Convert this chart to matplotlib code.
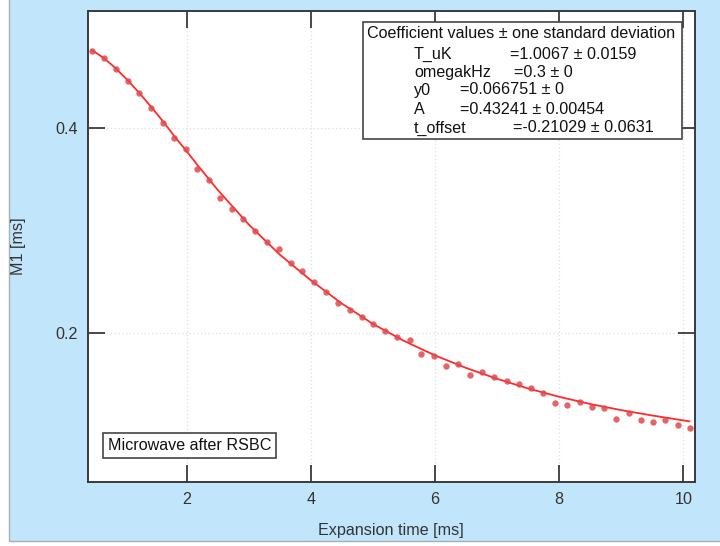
import matplotlib
matplotlib.use("Agg")
import matplotlib.pyplot as plt
from matplotlib.patches import Rectangle

plt.rcParams['font.family'] = ['Liberation Sans', 'DejaVu Sans']
FS = 11.6

# Measured M1 versus expansion time
t_ms = [0.480, 0.673, 0.862, 1.050, 1.237, 1.426, 1.619, 1.801, 1.985, 2.171,
        2.360, 2.537, 2.730, 2.912, 3.106, 3.294, 3.487, 3.676, 3.866, 4.051,
        4.240, 4.433, 4.626, 4.820, 5.006, 5.200, 5.393, 5.598, 5.780, 5.979,
        6.173, 6.366, 6.564, 6.762, 6.956, 7.155, 7.349, 7.547, 7.745, 7.938,
        8.132, 8.331, 8.529, 8.723, 8.916, 9.121, 9.314, 9.507, 9.710, 9.910,
        10.108]
m1_ms = [0.4749, 0.4681, 0.4571, 0.4451, 0.4340, 0.4192, 0.4049, 0.3900, 0.3793, 0.3598,
         0.3491, 0.3319, 0.3212, 0.3115, 0.2992, 0.2891, 0.2820, 0.2681, 0.2609, 0.2494,
         0.2405, 0.2292, 0.2227, 0.2156, 0.2093, 0.2022, 0.1961, 0.1932, 0.1796, 0.1782,
         0.1682, 0.1701, 0.1591, 0.1627, 0.1575, 0.1539, 0.1507, 0.1465, 0.1416, 0.1325,
         0.1303, 0.1332, 0.1286, 0.1270, 0.1166, 0.1222, 0.1157, 0.1134, 0.1157, 0.1105,
         0.1076]

# Fitted curve
fit_t = [0.47, 0.67, 0.86, 1.05, 1.24, 1.43, 1.62, 1.80, 1.99, 2.17,
         2.5, 3.0, 3.5, 4.0, 4.5, 5.0, 5.5, 6.0, 6.5, 7.0,
         7.5, 8.0, 8.5, 9.0, 9.5, 10.1]
fit_m1 = [0.4756, 0.4676, 0.4576, 0.4461, 0.4336, 0.4201, 0.4061, 0.3919, 0.3778, 0.3640,
          0.3395, 0.3058, 0.2765, 0.2516, 0.2289, 0.2091, 0.1926, 0.1785, 0.1663, 0.1557,
          0.1463, 0.1382, 0.1312, 0.1252, 0.1200, 0.1143]

x_ticks = [2, 4, 6, 8, 10]
y_ticks = [0.2, 0.4]

coef_title = "Coefficient values \u00b1 one standard deviation"
coef_names = ["T_uK", "omegakHz", "y0", "A", "t_offset"]
coef_values = ["=1.0067 \u00b1 0.0159", "=0.3 \u00b1 0", "=0.066751 \u00b1 0",
               "=0.43241 \u00b1 0.00454", "=-0.21029 \u00b1 0.0631"]
coef_value_x = [510, 514, 460, 460, 513]
note = "Microwave after RSBC"

W, H = 720, 546
fig = plt.figure(figsize=(W / 100, H / 100), dpi=100, facecolor='white')

def fx(px):
    return px / W

def fy(py):
    return 1 - py / H

# window background panel
fig.patches.append(Rectangle((fx(8.5), fy(541)), fx(W - 8.5) + 0.01, 541 / H + 0.01,
                             transform=fig.transFigure, facecolor='#c1e6fb',
                             edgecolor='#a9aeb2', linewidth=1.0, zorder=-5))

ax = fig.add_axes([fx(88), fy(482), fx(695 - 88), (482 - 11) / H])
ax.set_zorder(2)
ax.set_facecolor('white')

ax.plot(fit_t, fit_m1, color='#ff2a2a', linewidth=1.3, zorder=3)
ax.plot(t_ms, m1_ms, linestyle='none', marker='o', markersize=4.6,
        markerfacecolor='#e04a4e', markeredgecolor='none', alpha=0.85, zorder=4)

ax.set_xlim(0.411, 10.189)
ax.set_ylim(0.0553, 0.5135)
ax.set_xticks(x_ticks)
ax.set_yticks(y_ticks)
ax.set_xticklabels([str(v) for v in x_ticks])
ax.set_yticklabels([f"{v:.1f}" for v in y_ticks])
ax.tick_params(direction='in', length=12, width=1.3, color='#3a3a3a',
               top=True, right=True, labelsize=FS, labelcolor='#333333', pad=7)
ax.grid(True, color='#dedede', linestyle=(0, (1, 2)), linewidth=0.9)
ax.set_axisbelow(True)
for s in ax.spines.values():
    s.set_color('#3a3a3a')
    s.set_linewidth(1.4)

fig.text(fx(391), fy(535), "Expansion time [ms]", ha='center', va='baseline',
         fontsize=FS, color='#333333', zorder=6)
fig.text(fx(18), fy(246), "M1 [ms]", ha='center', va='center', rotation=90,
         fontsize=FS, color='#333333', zorder=6)

# coefficient box
fig.patches.append(Rectangle((fx(362.7), fy(139)), fx(681.7 - 362.7), (139 - 21.7) / H,
                             transform=fig.transFigure, facecolor='white',
                             edgecolor='#444444', linewidth=1.2, zorder=5))
fig.text(fx(367), fy(38.5), coef_title, ha='left', va='baseline', fontsize=FS,
         color='#111111', zorder=6)
row_base = [59, 77, 94.5, 113.5, 132.5]
for name, val, vx, ry in zip(coef_names, coef_values, coef_value_x, row_base):
    fig.text(fx(414), fy(ry), name, ha='left', va='baseline', fontsize=FS,
             color='#111111', zorder=6)
    fig.text(fx(vx), fy(ry), val, ha='left', va='baseline', fontsize=FS,
             color='#111111', zorder=6)

# annotation box
fig.patches.append(Rectangle((fx(103.3), fy(457.7)), fx(276 - 103.3), (457.7 - 432.7) / H,
                             transform=fig.transFigure, facecolor='white',
                             edgecolor='#444444', linewidth=1.2, zorder=5))
fig.text(fx(189.6), fy(450.5), note, ha='center', va='baseline', fontsize=FS,
         color='#111111', zorder=6)

fig.savefig("out.png", dpi=100, facecolor=fig.get_facecolor())
